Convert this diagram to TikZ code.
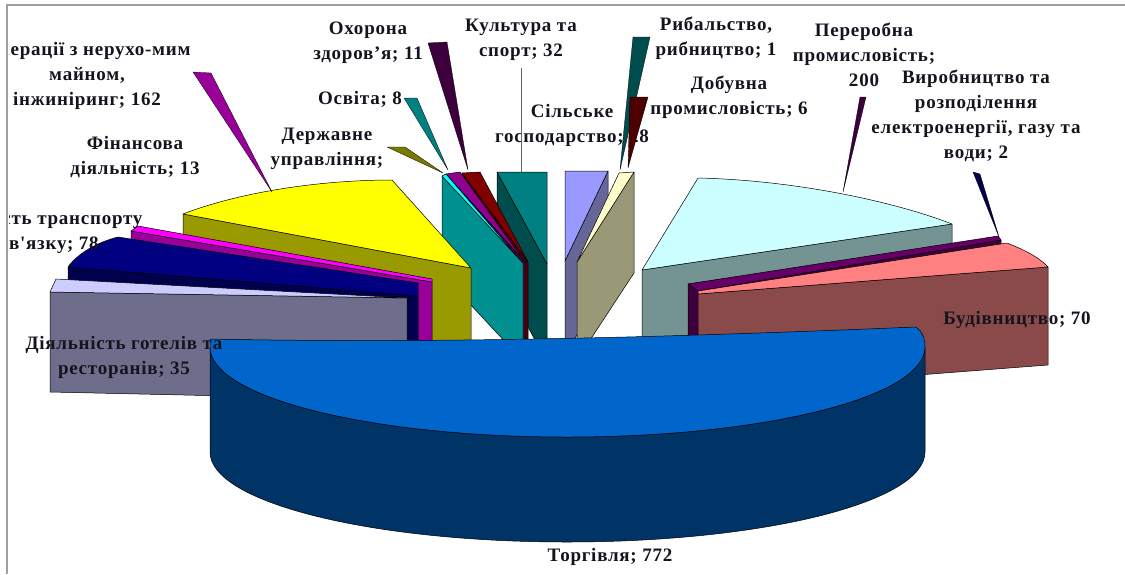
\documentclass[tikz,border=0pt]{standalone}
\usepackage{fontspec}
\setmainfont{Liberation Serif}
\newfontfamily\lblfam[LetterSpace=4]{Liberation Serif}
\definecolor{txt}{HTML}{14141E}
\definecolor{tradeT}{HTML}{0066CC}
\definecolor{tradeS}{HTML}{003366}
\definecolor{hotelT}{HTML}{CCCCFF}
\definecolor{hotelS}{HTML}{6E6E8C}
\definecolor{navyT}{HTML}{000080}
\definecolor{navyS}{HTML}{00004D}
\definecolor{pinkT}{HTML}{FF00FF}
\definecolor{pinkS}{HTML}{990099}
\definecolor{yelT}{HTML}{FFFF00}
\definecolor{yelS}{HTML}{999900}
\definecolor{turqT}{HTML}{00FFFF}
\definecolor{turqS}{HTML}{009090}
\definecolor{violT}{HTML}{8F008F}
\definecolor{violS}{HTML}{4D004D}
\definecolor{dredT}{HTML}{800000}
\definecolor{dredS}{HTML}{4D0000}
\definecolor{cultT}{HTML}{008080}
\definecolor{cultS}{HTML}{004D4D}
\definecolor{periT}{HTML}{9999FF}
\definecolor{periS}{HTML}{666699}
\definecolor{ivoT}{HTML}{FFFFCC}
\definecolor{ivoS}{HTML}{999977}
\definecolor{procT}{HTML}{CCFFFF}
\definecolor{procS}{HTML}{749494}
\definecolor{elecT}{HTML}{660066}
\definecolor{elecS}{HTML}{3D003D}
\definecolor{buildT}{HTML}{FF8080}
\definecolor{buildS}{HTML}{8B4A4A}
\tikzset{
  sl/.style={draw=black, line width=0.5pt, line join=round},
  ldr/.style={draw=black, line width=0.3pt, line join=round},
  lbl/.style={font=\lblfam\bfseries\fontsize{19}{25}\selectfont, align=center, inner sep=0pt, text=txt},
  frm/.style={draw=gray!75, line width=1.4pt}
}
\begin{document}
\begin{tikzpicture}[x=1pt,y=-1pt]
\useasboundingbox (0,0) rectangle (1125,574);
\fill[white] (0,0) rectangle (1125,574);
\draw[frm] (1125,5) -- (7,5) -- (7,574);

% ---- top group, left of 12 o'clock ----
\filldraw[sl, fill=cultS] (497,172) -- (547,264) -- (547,362) -- (497,270) -- cycle;
\filldraw[sl, fill=cultT] (497,172) -- (547,172) -- (547,264) -- cycle;
\filldraw[sl, fill=dredS] (462,173) -- (528,262) -- (528,360) -- (462,271) -- cycle;
\filldraw[sl, fill=dredT] (462,173) -- (480,172) -- (528,262) -- cycle;
\filldraw[sl, fill=violS] (446,174) -- (525,262) -- (525,360) -- (446,272) -- cycle;
\filldraw[sl, fill=violT] (446,174) -- (460,172) -- (525,262) -- cycle;
\filldraw[sl, fill=turqS] (442,176) -- (523,263) -- (523,361) -- (442,274) -- cycle;
\filldraw[sl, fill=turqT] (442,176) -- (446,174) -- (523,263) -- cycle;

% ---- top group, right of 12 o'clock ----
\filldraw[sl, fill=periS] (608,171) -- (565,261) -- (565,360) -- (608,269) -- cycle;
\filldraw[sl, fill=periT] (565,171) -- (608,171) -- (565,261) -- cycle;
\filldraw[sl, fill=ivoS] (634,172) -- (577,262) -- (577,360) -- (634,273) -- cycle;
\filldraw[sl, fill=ivoT] (619,173) -- (634,172) -- (577,262) -- cycle;

% ---- right group ----
\filldraw[sl, fill=procS] (642,270) -- (952,224) -- (952,322) -- (642,368) -- cycle;
\filldraw[sl, fill=procT] (642,270) -- (698,178) .. controls (790,180) and (890,200) .. (952,224) -- cycle;
\filldraw[sl, fill=elecS] (688,284) -- (1001,240) -- (1001,338) -- (688,382) -- cycle;
\filldraw[sl, fill=elecT] (688,284) -- (998,236) -- (1001,240) -- (698,291) -- cycle;
\filldraw[sl, fill=buildS] (698,294) -- (1048,267) -- (1048,365) -- (698,392) -- cycle;
\filldraw[sl, fill=buildT] (698,291) -- (1007,243) .. controls (1025,250) and (1040,258) .. (1048,267) -- (698,294) -- cycle;

% ---- left group ----
\filldraw[sl, fill=yelS] (183,214) -- (471,268) -- (471,366) -- (183,312) -- cycle;
\filldraw[sl, fill=yelT] (183,214) .. controls (240,192) and (320,180) .. (392,180) -- (471,268) -- cycle;
\filldraw[sl, fill=pinkS] (131,231) -- (432,282) -- (432,390) -- (131,335) -- cycle;
\filldraw[sl, fill=pinkT] (131,231) -- (138,226) -- (432,279) -- (432,282) -- cycle;
\filldraw[sl, fill=navyS] (68,267) -- (418,296) -- (418,400) -- (68,380) -- cycle;
\filldraw[sl, fill=navyT] (68,267) .. controls (78,253) and (98,242) .. (118,237) -- (418,283) -- (418,296) -- cycle;
\filldraw[sl, fill=hotelS] (50,292) -- (407,298) -- (407,400) -- (50,392) -- cycle;
\filldraw[sl, fill=hotelT] (56,279) -- (370,296) -- (407,298) -- (50,292) -- cycle;

% ---- trade (front) ----
\filldraw[sl, fill=tradeS] (210,347) -- (210,452) .. controls (210,502) and (369,542) .. (567,542)
   .. controls (765,542) and (925,502) .. (925,452) -- (925,347)
   .. controls (925,397) and (765,437) .. (567,437) .. controls (369,437) and (210,397) .. (210,347) -- cycle;
\filldraw[sl, fill=tradeT] (210,339) .. controls (450,344) and (700,336) .. (916,327)
   .. controls (922,331) and (925,338) .. (925,347)
   .. controls (925,397) and (765,437) .. (567,437) .. controls (369,437) and (210,397) .. (210,347) -- cycle;

% ---- labels ----
\begin{scope}
\clip (9,0) rectangle (1125,574);
\node[lbl] (l162) at (87,76) {Операції з нерухо-мим\\майном,\\інжиніринг; 162};
\node[lbl] (ltr) at (37,232) {Діяльність транспорту\\та зв'язку; 78};
\end{scope}
\node[lbl] (lfin) at (135,157) {Фінансова\\діяльність; 13};
\node[lbl] (lgov) at (327,149) {Державне\\управління;};
\node[lbl] (ledu) at (360,99) {Освіта; 8};
\node[lbl] (lhealth) at (368,43) {Охорона\\здоров’я; 11};
\node[lbl] (lcult) at (521,40) {Культура та\\спорт; 32};
\node[lbl] (lagr) at (572,125) {Сільське\\господарство; 28};
\node[lbl] (lfish) at (716,38) {Рибальство,\\рибництво; 1};
\node[lbl] (lmin) at (729,97) {Добувна\\промисловість; 6};
\node[lbl] (lproc) at (864,55) {Переробна\\промисловість;\\200};
\node[lbl] (lelec) at (976,116) {Виробництво та\\розподілення\\електроенергії, газу та\\води; 2};
\node[lbl] (lbuild) at (1017,320) {Будівництво; 70};
\node[lbl] (lhotel) at (124,357) {Діяльність готелів та\\ресторанів; 35};
\node[lbl] (ltrade) at (610,557) {Торгівля; 772};

% ---- leaders ----
\filldraw[ldr, fill=pinkS] (193,72) -- (211,73) -- (272,192) -- cycle;
\filldraw[ldr, fill=yelS!80!black] (387,147) -- (405,147) -- (443,173) -- cycle;
\filldraw[ldr, fill=cultT] (404,98) -- (417,98) -- (448,170) -- cycle;
\filldraw[ldr, fill=elecS] (428,43) -- (447,42) -- (468,170) -- cycle;
\draw[gray!80!black, line width=0.8pt] (521,68) -- (521,172);
\filldraw[ldr, fill=cultS] (633,37) -- (650,37) -- (620,170) -- cycle;
\filldraw[ldr, fill=dredS] (630,97) -- (648,97) -- (628,168) -- cycle;
\filldraw[ldr, fill=elecS] (860,97) -- (866,97) -- (843,192) -- cycle;
\filldraw[ldr, fill=navyS] (973,172) -- (980,174) -- (999,237) -- cycle;
\end{tikzpicture}
\end{document}
